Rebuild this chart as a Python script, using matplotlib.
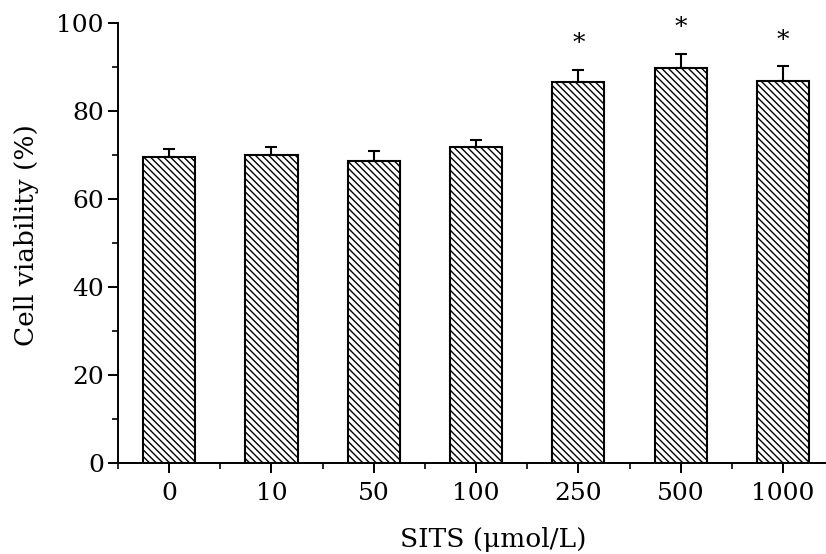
import matplotlib
matplotlib.use("Agg")
import matplotlib.pyplot as plt
from matplotlib.ticker import FixedLocator, MultipleLocator

categories = ["0", "10", "50", "100", "250", "500", "1000"]
viability = [69.7, 70.1, 68.8, 72.0, 86.7, 89.8, 87.0]
sem = [1.7, 1.9, 2.2, 1.4, 2.7, 3.2, 3.2]
significant = [False, False, False, False, True, True, True]

plt.rcParams['font.family'] = ['DejaVu Serif']
plt.rcParams['hatch.linewidth'] = 1.0
plt.rcParams['hatch.color'] = 'black'

fig = plt.figure(figsize=(8.26, 5.54), dpi=100)
ax = fig.add_axes([118/826, 1 - 463.3/554, (826 - 118)/826, 440/554])

x = list(range(len(categories)))
ax.bar(x, viability, width=0.51, color='white', edgecolor='black',
       linewidth=1.5, hatch='\\\\\\\\\\', zorder=2)
ax.errorbar(x, viability, yerr=[[0]*len(sem), sem], fmt='none',
            ecolor='black', elinewidth=1.5, capsize=4.3, capthick=1.5, zorder=3)

for xi, v, e, s in zip(x, viability, sem, significant):
    if s:
        ax.text(xi, v + e + 4.5, "*", ha='center', va='baseline',
                fontsize=18, clip_on=False)

ax.set_xlim(-0.5, 6.42)
ax.set_ylim(0, 100)
ax.set_xticks(x)
ax.set_xticklabels(categories)
ax.xaxis.set_minor_locator(FixedLocator([i - 0.5 for i in range(len(categories))]))
ax.set_yticks([0, 20, 40, 60, 80, 100])
ax.yaxis.set_minor_locator(MultipleLocator(10))

for s in ['top', 'right']:
    ax.spines[s].set_visible(False)
for s in ['left', 'bottom']:
    ax.spines[s].set_linewidth(1.4)

ax.tick_params(axis='both', which='major', length=7.2, width=1.4,
               labelsize=18, direction='out')
ax.tick_params(axis='both', which='minor', length=4.0, width=1.2,
               direction='out')
ax.tick_params(axis='x', which='major', pad=6)
ax.tick_params(axis='y', which='major', pad=3)

fig.text(27/826, 1 - 235/554, "Cell viability (%)", rotation=90,
         ha='center', va='center', fontsize=19)
fig.text(493.5/826, 1 - 540/554, "SITS (\u03bcmol/L)", ha='center',
         va='center', fontsize=19)

fig.savefig("out.png", dpi=100)
